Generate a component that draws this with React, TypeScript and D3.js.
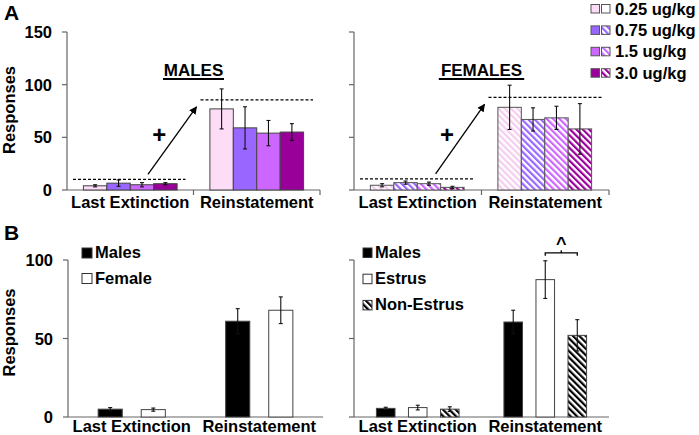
import React from "react";
import * as d3 from "d3";

// panel A: dose groups
const categories = ["Last Extinction", "Reinstatement"];
const doses = ["0.25 ug/kg", "0.75 ug/kg", "1.5 ug/kg", "3.0 ug/kg"];
const doseColors = ["#fcdcf6", "#9966ff", "#cc66ff", "#990099"];
const hatchColors = ["#f6cdee", "#9966ff", "#cc66ff", "#990099"];

const maleExtinction = [4, 6.5, 5, 6];
const maleExtinctionErr = [1, 3, 2, 1];
const maleReinstatement = [77, 59, 54, 55];
const maleReinstatementErr = [19, 20, 12, 8];

const femaleExtinction = [4.5, 7, 6, 2.5];
const femaleExtinctionErr = [1.5, 1.5, 1.5, 1];
const femaleReinstatement = [78.5, 67, 68.5, 58];
const femaleReinstatementErr = [21, 11, 11, 24];

// panel B
const sexGroups = ["Males", "Female"];
const sexExtinction = [5, 4.7];
const sexExtinctionErr = [1, 1];
const sexReinstatement = [61, 68];
const sexReinstatementErr = [8, 8.5];

const cycleGroups = ["Males", "Estrus", "Non-Estrus"];
const cycleExtinction = [5.5, 6, 5];
const cycleExtinctionErr = [0.7, 1.5, 1.5];
const cycleReinstatement = [60.5, 87.5, 52];
const cycleReinstatementErr = [7.5, 12, 10];

const ticksA = [0, 50, 100, 150];
const ticksB = [0, 50, 100];

const FONT = "'Liberation Sans', Arial, sans-serif";

type Bar = { x: number; w: number; v: number; e: number; fill: string };

function ErrorBar({ b, y }: { b: Bar; y: d3.ScaleLinear<number, number> }) {
  const cx = b.x + b.w / 2;
  const lo = y(Math.max(0, b.v - b.e));
  const hi = y(b.v + b.e);
  return (
    <g stroke="#111" strokeWidth={1.1}>
      <line x1={cx} x2={cx} y1={hi} y2={lo} />
      <line x1={cx - 2} x2={cx + 2} y1={hi} y2={hi} />
      <line x1={cx - 2} x2={cx + 2} y1={lo} y2={lo} />
    </g>
  );
}

function Axis({
  x0, x1, y, ticks, labels, xTicks,
}: {
  x0: number; x1: number; y: d3.ScaleLinear<number, number>; ticks: number[]; labels: boolean; xTicks: number[];
}) {
  const top = y(d3.max(ticks) as number);
  return (
    <g>
      <line x1={x0} x2={x0} y1={top} y2={y(0)} stroke="#666" strokeWidth={1.2} />
      <line x1={x0} x2={x1} y1={y(0)} y2={y(0)} stroke="#666" strokeWidth={1.2} />
      {ticks.map((t) => (
        <g key={t}>
          <line x1={x0 - 5} x2={x0} y1={y(t)} y2={y(t)} stroke="#666" strokeWidth={1.2} />
          {labels && (
            <text x={x0 - 15} y={y(t) + 6} textAnchor="end" fontSize={16.5} fontWeight="bold">
              {t}
            </text>
          )}
        </g>
      ))}
      {xTicks.map((t, i) => (
        <line key={i} x1={t} x2={t} y1={y(0)} y2={y(0) + 5} stroke="#666" strokeWidth={1.2} />
      ))}
    </g>
  );
}

export default function App() {
  // ---- panel A ----
  const yA = d3.scaleLinear().domain([0, 150]).range([190, 32]);
  const xAL = d3.scaleBand<string>().domain(categories).range([67, 320]);
  const xAR = d3.scaleBand<string>().domain(categories).range([354, 609]);
  const inA = d3.scaleBand<string>().domain(doses).range([0, xAL.bandwidth()]).paddingOuter(0.7);

  const barsA = (xs: d3.ScaleBand<string>, ext: number[], extE: number[], rein: number[], reinE: number[], female: boolean) =>
    categories.flatMap((c, ci) =>
      doses.map((d, i) => ({
        x: (xs(c) as number) + (inA(d) as number),
        w: inA.bandwidth(),
        v: ci === 0 ? ext[i] : rein[i],
        e: ci === 0 ? extE[i] : reinE[i],
        fill: female ? `url(#hatch${i})` : doseColors[i],
      }))
    );
  const maleBars = barsA(xAL, maleExtinction, maleExtinctionErr, maleReinstatement, maleReinstatementErr, false);
  const femaleBars = barsA(xAR, femaleExtinction, femaleExtinctionErr, femaleReinstatement, femaleReinstatementErr, true);

  // ---- panel B ----
  const yB = d3.scaleLinear().domain([0, 100]).range([417, 260]);
  const xBL = d3.scaleBand<string>().domain(categories).range([68, 323]);
  const xBR = d3.scaleBand<string>().domain(categories).range([354, 609]);
  const inBL = d3.scaleBand<string>().domain(sexGroups).range([0, xBL.bandwidth()]).paddingInner(0.44).paddingOuter(0.7);
  const inBR = d3.scaleBand<string>().domain(cycleGroups).range([0, xBR.bandwidth()]).paddingInner(0.42).paddingOuter(0.7);
  const fillB = ["#000", "#fff", "url(#hatchBW)"];

  const sexBars: Bar[] = categories.flatMap((c, ci) =>
    sexGroups.map((g, i) => ({
      x: (xBL(c) as number) + (inBL(g) as number),
      w: inBL.bandwidth(),
      v: ci === 0 ? sexExtinction[i] : sexReinstatement[i],
      e: ci === 0 ? sexExtinctionErr[i] : sexReinstatementErr[i],
      fill: fillB[i],
    }))
  );
  const cycleBars: Bar[] = categories.flatMap((c, ci) =>
    cycleGroups.map((g, i) => ({
      x: (xBR(c) as number) + (inBR(g) as number),
      w: inBR.bandwidth(),
      v: ci === 0 ? cycleExtinction[i] : cycleReinstatement[i],
      e: ci === 0 ? cycleExtinctionErr[i] : cycleReinstatementErr[i],
      fill: fillB[i],
    }))
  );

  const drawBars = (bars: Bar[], y: d3.ScaleLinear<number, number>, stroke: string) => (
    <g>
      {bars.map((b, i) => (
        <rect key={i} x={b.x} y={y(b.v)} width={b.w} height={y(0) - y(b.v)} fill={b.fill} stroke={stroke} strokeWidth={1} />
      ))}
      {bars.map((b, i) => (
        <ErrorBar key={"e" + i} b={b} y={y} />
      ))}
    </g>
  );

  const catLabels = (xs: d3.ScaleBand<string>, yText: number) =>
    categories.map((c) => (
      <text key={c} x={(xs(c) as number) + xs.bandwidth() / 2} y={yText} textAnchor="middle" fontSize={16.5} fontWeight="bold">
        {c}
      </text>
    ));

  // dashed reference lines, arrow, "+" and panel title
  const annot = (xs: d3.ScaleBand<string>, ext: number[], rein: number[], reinE: number[], title: string) => {
    const l = xs(categories[0]) as number;
    const r = xs(categories[1]) as number;
    const bw = xs.bandwidth();
    const lowY = yA(d3.max(ext) as number + 3.5);
    const highY = yA(d3.max(rein.map((v, i) => v + reinE[i] * 0.45)) as number);
    const tx = r;
    return (
      <g>
        <line x1={l + 6} x2={l + bw - 8} y1={lowY} y2={lowY} stroke="#000" strokeWidth={1.3} strokeDasharray="3,2" />
        <line x1={r + 7} x2={r + bw - 7} y1={highY} y2={highY} stroke="#000" strokeWidth={1.3} strokeDasharray="3,2" />
        <line x1={l + bw * 0.64} y1={lowY - 5} x2={r + 3} y2={highY + 7} stroke="#000" strokeWidth={1.3} markerEnd="url(#arrow)" />
        <text x={l + bw * 0.73} y={yA(52) + 8} textAnchor="middle" fontSize={24} fontWeight="bold">+</text>
        <text x={tx} y={76} textAnchor="middle" fontSize={17} fontWeight="bold">{title}</text>
        <line x1={tx - title.length * 6.1} x2={tx + title.length * 6.1} y1={79} y2={79} stroke="#000" strokeWidth={2} />
      </g>
    );
  };

  return (
    <div style={{ position: "absolute", left: 0, top: 0 }}>
      <svg width={699} height={435} style={{ display: "block", background: "#fff" }} fontFamily={FONT}>
        <defs>
          {hatchColors.map((c, i) => (
            <pattern key={i} id={`hatch${i}`} patternUnits="userSpaceOnUse" width={4.5} height={4.5} patternTransform="rotate(-45)">
              <rect width={4.5} height={4.5} fill="#fff" />
              <rect width={2.2} height={4.5} fill={c} />
            </pattern>
          ))}
          <pattern id="hatchBW" patternUnits="userSpaceOnUse" width={4.5} height={4.5} patternTransform="rotate(-45)">
            <rect width={4.5} height={4.5} fill="#fff" />
            <rect width={2.2} height={4.5} fill="#000" />
          </pattern>
          <marker id="arrow" viewBox="0 0 10 10" refX={9} refY={5} markerWidth={6} markerHeight={6} orient="auto">
            <path d="M0,0 L10,5 L0,10 z" fill="#000" />
          </marker>
        </defs>

        {/* Panel A */}
        <text x={4} y={20} fontSize={21} fontWeight="bold">A</text>
        <text transform={`translate(15,${(yA(0) + yA(150)) / 2 - 1}) rotate(-90)`} textAnchor="middle" fontSize={16.5} fontWeight="bold">
          Responses
        </text>
        <Axis x0={67} x1={320} y={yA} ticks={ticksA} labels={true} xTicks={[xAL(categories[1]) as number, 320]} />
        {drawBars(maleBars, yA, "#444")}
        {annot(xAL, maleExtinction, maleReinstatement, maleReinstatementErr, "MALES")}
        {catLabels(xAL, 208)}

        <Axis x0={354} x1={609} y={yA} ticks={ticksA} labels={false} xTicks={[xAR(categories[1]) as number, 609]} />
        {drawBars(femaleBars, yA, "#555")}
        {annot(xAR, femaleExtinction, femaleReinstatement, femaleReinstatementErr, "FEMALES")}
        {catLabels(xAR, 208)}

        {/* dose legend */}
        {doses.map((d, i) => {
          const base = 14.5 + i * 21.4;
          return (
            <g key={d}>
              <rect x={591} y={base - 10} width={8.5} height={8.5} fill={doseColors[i]} stroke="#555" strokeWidth={1} />
              <rect x={601.5} y={base - 10} width={8.5} height={8.5} fill={i === 0 ? "#fff" : `url(#hatch${i})`} stroke="#555" strokeWidth={1} />
              <text x={615} y={base} fontSize={16.5} fontWeight="bold">{d}</text>
            </g>
          );
        })}

        {/* Panel B */}
        <text x={4} y={240} fontSize={21} fontWeight="bold">B</text>
        <text transform={`translate(15,${(yB(0) + yB(100)) / 2 - 6}) rotate(-90)`} textAnchor="middle" fontSize={16.5} fontWeight="bold">
          Responses
        </text>
        <Axis x0={68} x1={323} y={yB} ticks={ticksB} labels={true} xTicks={[]} />
        {drawBars(sexBars, yB, "#444")}
        {catLabels(xBL, 432)}
        {sexGroups.map((g, i) => {
          const base = 258 + i * 25.5;
          return (
            <g key={g}>
              <rect x={82} y={base - 10} width={10} height={10} fill={fillB[i]} stroke="#333" strokeWidth={1} />
              <text x={95} y={base} fontSize={16.5} fontWeight="bold">{g}</text>
            </g>
          );
        })}

        <Axis x0={354} x1={609} y={yB} ticks={ticksB} labels={false} xTicks={[]} />
        {drawBars(cycleBars, yB, "#444")}
        {catLabels(xBR, 432)}
        {cycleGroups.map((g, i) => {
          const base = 257.5 + i * 26.2;
          return (
            <g key={g}>
              <rect x={363} y={base - 9.5} width={9} height={9.5} fill={fillB[i]} stroke="#333" strokeWidth={1} />
              <text x={375} y={base} fontSize={16.5} fontWeight="bold">{g}</text>
            </g>
          );
        })}
        {/* significance bracket between Estrus and Non-Estrus reinstatement */}
        {(() => {
          const a = cycleBars[4];
          const b = cycleBars[5];
          const x1 = a.x + a.w / 2;
          const x2 = b.x + b.w / 2;
          const yb = yB(a.v + a.e) - 8;
          const mid = (x1 + x2) / 2;
          return (
            <g>
              <path d={`M${x1},${yb + 3} L${x1},${yb} L${x2},${yb} L${x2},${yb + 3} M${mid},${yb} L${mid},${yb - 2.5}`} fill="none" stroke="#000" strokeWidth={1.3} />
              <text x={mid} y={yb - 3} textAnchor="middle" fontSize={18} fontWeight="bold">^</text>
            </g>
          );
        })()}
      </svg>
    </div>
  );
}
